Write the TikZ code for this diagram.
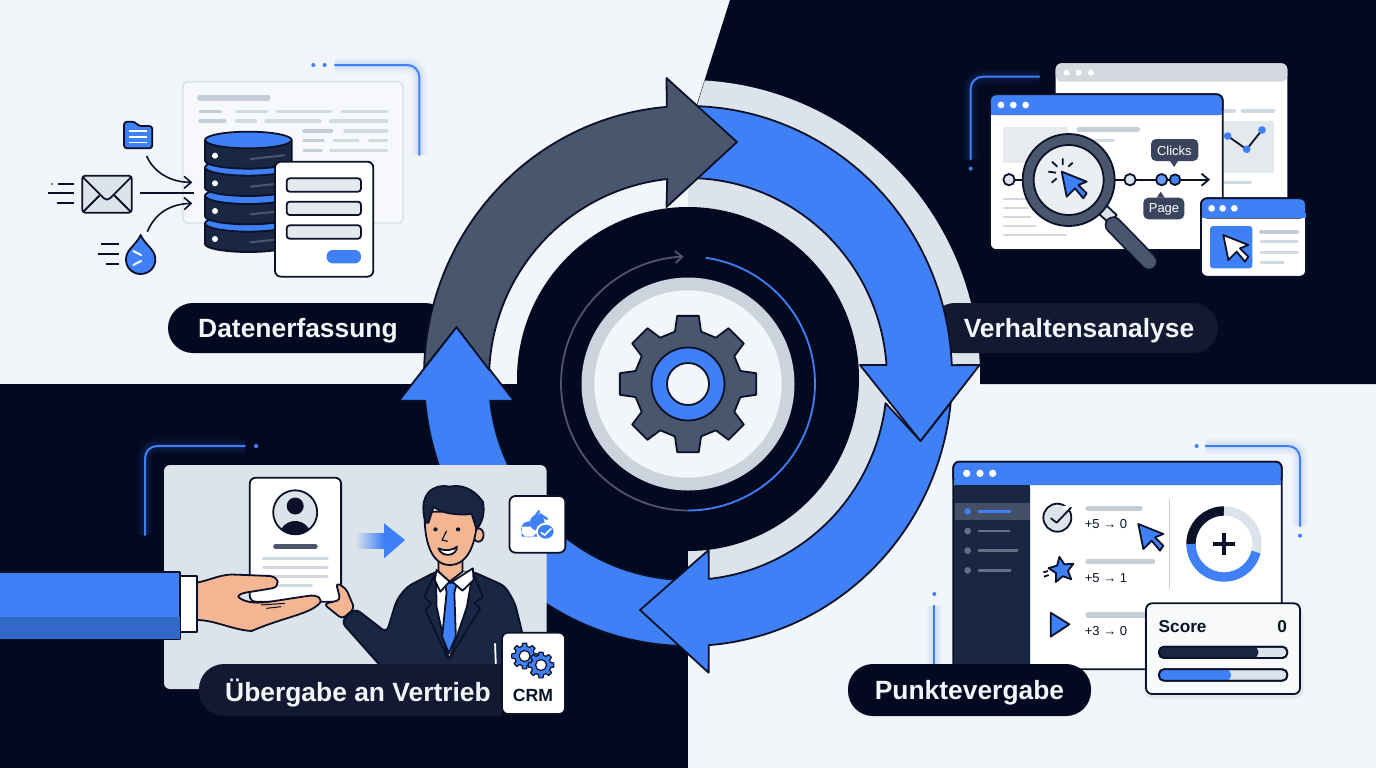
\documentclass[tikz,border=0pt]{standalone}
\usepackage{fontspec}
\setmainfont{Liberation Sans}
\usetikzlibrary{arrows.meta}
\definecolor{flowblue}{HTML}{3F80F6}
\definecolor{flowdeep}{HTML}{3268C8}
\definecolor{ink}{HTML}{0A1128}
\definecolor{bgdark}{HTML}{030920}
\definecolor{bglight}{HTML}{F2F5F9}
\definecolor{ringgray}{HTML}{DDE3EA}
\definecolor{ringmid}{HTML}{CBD3DD}
\definecolor{slate}{HTML}{4A566E}
\definecolor{navy}{HTML}{1A2742}
\definecolor{pillsoft}{HTML}{111A30}
\definecolor{barsoft}{HTML}{D3D9E1}
\definecolor{barmid}{HTML}{C5CDD7}
\definecolor{skin}{HTML}{F4B592}
\tikzset{
  outline/.style={draw=ink,line width=0.9pt,line join=round},
  flow/.style={outline,fill=flowblue},
  pill/.style={rounded corners=12.5pt},
  pilltext/.style={text=bglight,font=\fontsize{13.2}{15}\selectfont\bfseries},
  tiptext/.style={text=white,font=\fontsize{6.5}{8}\selectfont},
  scoretext/.style={text=ink,font=\fontsize{6.5}{8}\selectfont},
  softbar/.style={draw=barsoft,line width=#1,line cap=round},
  softbar/.default=1.6pt,
  midbar/.style={draw=barmid,line width=#1,line cap=round},
  midbar/.default=1.6pt,
  corner/.style={draw=flowblue,line width=1pt,rounded corners=6pt,line cap=round,
    preaction={draw=flowblue,draw opacity=.04,line width=8pt},
    preaction={draw=flowblue,draw opacity=.05,line width=5.5pt},
    preaction={draw=flowblue,draw opacity=.07,line width=3.5pt}},
  barb/.style={-{Straight Barb[length=3.5pt,width=6pt]}},
  window/.style={outline,fill=white,rounded corners=3pt},
  cursor/.style={outline,fill=flowblue},
  dotw/.style={fill=white}
}
% rings of the main cycle, angle runs clockwise from east
\newcommand{\outerring}[2]{plot[domain=#1:#2,samples=60]({688+264*cos(\x)},{376+270*sin(\x)})}
\newcommand{\innerring}[2]{-- plot[domain=#1:#2,samples=60]({688+199*cos(\x)},{379+201*sin(\x)})}
\newcommand{\cogpath}[2]{(-14:#2) \foreach \a in {0,45,...,315}{ -- (\a-9:#1) -- (\a+9:#1) -- (\a+14:#2) -- (\a+31:#2)} -- cycle}
\newcommand{\cursorpath}{(0,0) -- (15,75) -- (40,50) -- (65,80) -- (75,65) -- (50,40) -- (75,30) -- cycle}
\begin{document}
\begin{tikzpicture}[x=0.5pt,y=-0.5pt]
	\useasboundingbox (0,0) rectangle (1376,768);
	% Background quadrants
	\fill [bglight] (0,0) rectangle (1376,768);
	\fill [bgdark] (730,0) -- (1376,0) -- (1376,384) -- (980,384) -- (980,365) -- (688,365) -- (688,178) -- (697,104) -- cycle;
	\fill [bgdark] (0,384) rectangle (688,768);
	% Gray bands behind the arrows
	\fill [ringgray] (697,106) -- (705,80) -- plot[domain=-86.7:-2.2,samples=60]({688+292*cos(\x)},{376+296*sin(\x)}) -- (860,365) -- cycle;
	% Step pills
	\fill [bgdark,pill] (168,303) rectangle (450,353);
	\fill [pillsoft,pill] (930,303) rectangle (1218,353);
	\fill [ringgray] plot[domain=-90:90,samples=80]({688+199*cos(\x)},{379+201*sin(\x)}) -- cycle;
	\fill [bgdark] (688,379) ellipse [x radius=171,y radius=172];
	% Arrows of the cycle
	\draw [flow] \outerring{88}{174.75} -- (399,400.7) -- (456.5,327) -- (514,400.7) \innerring{173.8}{88} -- cycle;
	\draw [flow] \outerring{5.7}{85.5} -- (708.6,672.7) -- (640,610) -- (708.6,550) \innerring{84}{6.9} -- (920.5,441) -- cycle;
	\draw [flow] \outerring{270}{357.7} -- (979.6,365) -- (920.5,441) -- (860,365) \innerring{356}{270} -- cycle;
	\draw [outline,fill=slate] \outerring{181.7}{265.4} -- (666.5,78) -- (737,142) -- (666.5,207) \innerring{264}{182.6} -- (456.5,327) -- cycle;
	% Thin arcs round the hub
	\draw [barb,draw=slate,line width=0.9pt] plot[domain=90:268,samples=60]({688+127*cos(\x)},{383.5+127*sin(\x)});
	\draw [draw=flowblue,line width=0.9pt] plot[domain=278:450,samples=60]({688+127*cos(\x)},{383.5+127*sin(\x)});
	% Hub and gear
	\fill [ringmid] (688,384) circle [radius=106.5];
	\fill [bglight] (688,384) circle [radius=93.7];
	\draw [outline,fill=slate,shift={(688,384)}] \cogpath{69}{54};
	\draw [flow] (688,384) circle [radius=36.5];
	\draw [outline,fill=bglight] (688,384) circle [radius=21];
	% Datenerfassung
	\node [pilltext] (lblCapture) at (298,331) {Datenerfassung};
	\begin{scope}[shift={(30,50)},scale=1/3]
		\draw [outline,draw=ringgray,fill=bglight!70!white,rounded corners=3pt] (458,95) rectangle (1120,520);
		\draw [midbar=3pt] (510,143) -- (713,143);
		\foreach \xa/\xb/\yy in {510/572/184,510/585/213,822/905/243,822/880/272,822/874/301}
		\draw [midbar] (\xa,\yy) -- (\xb,\yy);
		\foreach \xa/\xb/\yy in {620/710/184,742/902/184,936/1070/184,620/676/213,708/870/213,902/1070/213,945/1070/243,912/984/272,1018/1070/272,902/1070/301}
		\draw [softbar] (\xa,\yy) -- (\xb,\yy);
		\draw [corner] (915,45) -- (1168,45) -- (1168,315);
		\fill [flowblue] (850,45) circle [radius=6] (884,45) circle [radius=6];
		% database stack
		\foreach \yy in {520,437,352,270}{
			\draw [outline,fill=navy] (525,\yy) -- (525,\yy+62) arc [start angle=180,end angle=0,x radius=130,y radius=24] -- (785,\yy) -- cycle;
			\draw [outline,fill=flowblue] (655,\yy) ellipse [x radius=130,y radius=25];
		}
		\foreach \yy in {317,400,483,567}
		\fill [white] (555,\yy) circle [radius=9];
		\foreach \yy in {327,410,493,577}
		\draw [draw=slate,line width=1pt,line cap=round] (662,\yy) -- (762,\yy-11);
		% form card
		\draw [window] (735,335) rectangle (1030,680);
		\foreach \yy in {385,455,526}
		\draw [outline,fill=ringgray!80!white,rounded corners=1.5pt] (770,\yy) rectangle (993,\yy+40);
		\fill [flowblue,rounded corners=3pt] (890,600) rectangle (993,640);
		% folder
		\draw [flow,rounded corners=1.5pt] (282,295) -- (282,215) -- (315,215) -- (325,228) -- (367,228) -- (367,295) -- cycle;
		\foreach \yy in {243,261,278}
		\draw [draw=white,line width=0.8pt] (297,\yy) -- (352,\yy);
		% envelope
		\draw [outline,fill=ringgray,rounded corners=1.5pt] (157,377) rectangle (305,488);
		\draw [outline] (157,380) -- (222,445) .. controls (228,450) and (234,450) .. (240,445) -- (305,380);
		\draw [outline] (160,485) -- (210,435) (302,485) -- (252,435);
		\draw [outline] (85,402) -- (132,402) (55,430) -- (132,430) (80,460) -- (132,460);
		\fill [ink] (66,402) circle [radius=2.5];
		% drop
		\draw [flow] (332,555) .. controls (345,585) and (376,598) .. (376,628) .. controls (376,655) and (355,672) .. (332,672) .. controls (309,672) and (288,655) .. (288,628) .. controls (288,598) and (319,585) .. (332,555) -- cycle;
		\draw [draw=white,line width=1pt,line cap=round] (310,603) -- (333,615) (333,633) -- (310,645);
		\draw [outline] (213,583) -- (268,583) (203,613) -- (268,613) (227,643) -- (268,643);
		% incoming arrows
		\coordinate (mailOut) at (330,430);
		\coordinate (stackIn) at (492,430);
		\draw [outline] (mailOut) -- (stackIn);
		\draw [outline,barb,line width=0.8pt] (350,318) .. controls (370,365) and (420,397) .. (487,397);
		\draw [outline,barb,line width=0.8pt] (352,545) .. controls (375,490) and (420,462) .. (487,460);
	\end{scope}
	% Verhaltensanalyse
	\node [pilltext] (lblBehavior) at (1079,331) {Verhaltensanalyse};
	\begin{scope}[shift={(950,50)},scale=1/3]
		\draw [corner] (268,80) -- (62,80) -- (62,328);
		\fill [flowblue] (62,356) circle [radius=6];
		% back window
		\draw [draw=none,fill=white,rounded corners=3pt] (317,40) rectangle (1012,560);
		\fill [ringgray!90!gray,rounded corners=3pt] (317,40) rectangle (1012,95);
		\foreach \xa in {350,386,423}
		\fill [dotw] (\xa,68) circle [radius=9];
		\draw [softbar=2pt] (822,183) -- (852,183) (878,183) -- (970,183);
		\fill [ringgray!80!white] (820,213) rectangle (972,370);
		\draw [softbar] (822,397) -- (902,397);
		\draw [outline] (833,258) -- (890,298) -- (936,240);
		\foreach \xa/\yy in {833/258,890/298,936/240}
		\fill [flowblue] (\xa,\yy) circle [radius=11.5];
		% main window
		\draw [window] (120,133) rectangle (818,600);
		\draw [flow,draw=ink,rounded corners=3pt] (120,193) -- (120,133) -- (818,133) -- (818,193) -- cycle;
		\fill [flowblue] (121.5,180) rectangle (816.5,194);
		\foreach \xa in {153,190,227}
		\fill [dotw] (\xa,165) circle [radius=10];
		\fill [ringgray!70!white] (160,230) rectangle (353,340);
		\draw [midbar=2.7pt] (388,238) -- (562,238);
		\draw [softbar=1.3pt] (385,272) -- (490,272);
		\foreach \xa/\yy in {235/448,235/475,240/502,256/528,348/555}
		\draw [softbar=1.1pt] (162,\yy) -- (\xa,\yy);
		% click path
		\draw [outline,barb] (177,389) -- (780,389);
		\draw [outline,fill=ringgray] (177,389) circle [radius=17];
		\draw [outline,fill=ringgray] (540,389) circle [radius=17];
		\draw [outline,fill=flowblue!80!white] (635,389) circle [radius=17];
		\draw [flow] (675,389) circle [radius=16];
		% tooltips
		\fill [slate!75!ink,rounded corners=2.5pt] (603,267) rectangle (745,333);
		\fill [slate!75!ink] (660,333) -- (684,333) -- (672,351) -- cycle;
		\node [tiptext] (tipClicks) at (673,302) {Clicks};
		\fill [slate!75!ink,rounded corners=2.5pt] (580,443) rectangle (703,508);
		\fill [slate!75!ink] (620,443) -- (644,443) -- (632,425) -- cycle;
		\node [tiptext] (tipPage) at (642,478) {Page};
		% magnifier
		\draw [outline,fill=ringgray] (445,490) -- (478,520) -- (500,495) -- (468,465) -- cycle;
		\draw [draw=ink,line width=8.6pt,line cap=round] (490,525) -- (597,635);
		\draw [draw=slate,line width=7pt,line cap=round] (490,525) -- (597,635);
		\draw [outline,fill=slate] (356,390) circle [radius=138];
		\draw [outline,fill=ringgray!60!white] (356,390) circle [radius=105];
		\draw [cursor,shift={(335,365)}] \cursorpath;
		\draw [outline] (322,350) -- (306,335) (338,345) -- (338,325) (355,350) -- (368,338) (318,368) -- (295,365) (320,385) -- (305,398);
		% small window
		\draw [window] (753,445) rectangle (1068,680);
		\draw [flow,draw=ink,rounded corners=3pt] (753,503) -- (753,445) -- (1068,445) -- (1068,503) -- cycle;
		\fill [flowblue] (754.5,490) rectangle (1066.5,504);
		\foreach \xa in {785,818,853}
		\fill [dotw] (\xa,475) circle [radius=10];
		\fill [flowblue,rounded corners=1.5pt] (780,528) rectangle (907,655);
		\draw [outline,fill=white,shift={(820,555)}] \cursorpath;
		\draw [midbar=2pt] (933,545) -- (1042,545);
		\draw [softbar=1.4pt] (933,575) -- (1042,575) (933,607) -- (1042,607) (933,637) -- (1000,637);
	\end{scope}
	% Punktevergabe
	\begin{scope}[shift={(920,440)},scale=1/3]
		\draw [corner] (857,18) -- (1140,18) -- (1140,258);
		\fill [flowblue] (830,18) circle [radius=6] (1140,287) circle [radius=6] (43,462) circle [radius=6];
		\draw [corner] (43,497) -- (43,680);
		% score window
		\draw [window] (100,65) rectangle (1085,688);
		\fill [navy,rounded corners=1pt] (102,133) rectangle (330,686);
		\draw [flow,draw=ink,rounded corners=3pt] (100,133) -- (100,65) -- (1085,65) -- (1085,133) -- cycle;
		\fill [flowblue] (101.5,120) rectangle (1083.5,134);
		\foreach \xa in {140,180,218}
		\fill [dotw] (\xa,100) circle [radius=11];
		\fill [slate!85!navy] (104,188) rectangle (330,240);
		\fill [flowblue] (143,214) circle [radius=10];
		\draw [draw=flowblue,line width=1.3pt,line cap=round] (177,214) -- (270,214);
		\foreach \yy/\xb in {273/268,332/292,391/271}{
			\fill [slate!85!white] (143,\yy) circle [radius=10];
			\draw [draw=slate!85!white,line width=1.3pt,line cap=round] (177,\yy) -- (\xb,\yy);
		}
		% scoring rows
		\draw [outline,fill=ringgray] (412,233) circle [radius=42];
		\draw [draw=white,line width=2pt] (430,205) -- (470,205);
		\draw [outline,line cap=round] (393,235) -- (410,248) -- (453,203);
		\draw [outline,fill=flowblue,shift={(425,390)},rotate=10] (-90:40) \foreach \i in {0,...,4}{ -- (-90+72*\i:40) -- (-54+72*\i:19)} -- cycle;
		\draw [outline] (370,397) -- (384,393) (372,410) -- (386,405);
		\draw [flow] (392,518) -- (448,553) -- (392,590) -- cycle;
		\foreach \xa/\yy in {660/206,698/365,680/525}
		\draw [midbar=2.7pt] (504,\yy) -- (\xa,\yy);
		\node [scoretext] (rowCheck) at (558,253) {+5 → 0};
		\node [scoretext] (rowStar) at (558,413) {+5 → 1};
		\node [scoretext] (rowPlay) at (558,573) {+3 → 0};
		\draw [draw=barmid,line width=0.8pt] (748,178) -- (748,448);
		\draw [cursor,shift={(655,252)}] \cursorpath;
		% donut
		\draw [draw=ink,line width=4.7pt] plot[domain=180:270,samples=30]({912+99*cos(\x)},{312+99*sin(\x)});
		\draw [draw=ringgray,line width=4.7pt] plot[domain=270:374,samples=30]({912+99*cos(\x)},{312+99*sin(\x)});
		\draw [draw=flowblue,line width=4.7pt] plot[domain=14:180,samples=30]({912+99*cos(\x)},{312+99*sin(\x)});
		\draw [draw=ink,line width=1.7pt] (880,312) -- (944,312) (912,280) -- (912,344);
		% score card
		\fill [gray,opacity=.12,rounded corners=4pt] (672,500) rectangle (1150,775);
		\draw [outline,fill=bglight!60!white,rounded corners=3pt] (678,490) rectangle (1140,762);
		\node [anchor=west,text=ink,font=\fontsize{8.6}{10}\selectfont\bfseries] (scoreTitle) at (695,560) {Score};
		\node [anchor=east,text=ink,font=\fontsize{8.6}{10}\selectfont\bfseries] (scoreValue) at (1122,560) {0};
		\draw [outline,fill=ringgray,rounded corners=2.5pt] (717,620) rectangle (1102,654);
		\fill [navy,rounded corners=2.5pt] (717,620) rectangle (1015,654);
		\draw [outline,rounded corners=2.5pt] (717,620) rectangle (1102,654);
		\draw [outline,fill=ringgray,rounded corners=2.5pt] (717,688) rectangle (1102,722);
		\fill [flowblue,rounded corners=2.5pt] (717,688) rectangle (933,722);
		\draw [outline,rounded corners=2.5pt] (717,688) rectangle (1102,722);
	\end{scope}
	\fill [bgdark,pill] (848,664) rectangle (1091,716);
	\node [pilltext] (lblScore) at (969.5,693) {Punktevergabe};
	% Vertrieb card
	\fill [ringgray,rounded corners=3pt] (164,465) rectangle (546.5,689);
	\begin{scope}[shift={(0,440)},xscale=0.37,yscale=1/3]
		\draw [corner] (662,18) -- (392,18) -- (392,285);
		\fill [flowblue] (692,18) circle [radius=6];
		% candidate sheet
		\draw [window] (675,113) rectangle (922,485);
		\draw [draw=slate,line width=2.5pt,line cap=round] (745,319) -- (852,319);
		\foreach \yy in {356,382,408}
		\draw [softbar=1.5pt] (712,\yy) -- (885,\yy);
		\draw [softbar=1.5pt] (755,436) -- (842,436);
		% receiving hand
		\draw [outline,fill=skin,rounded corners=2pt] (908,428) -- (935,445) -- (958,505) -- (925,537) -- (875,492) -- (920,480) -- cycle;
		% handing arm
		\draw [outline,fill=skin] (532,428) .. controls (570,420) and (600,400) .. (640,404) -- (730,408) .. controls (755,412) and (758,440) .. (735,445) -- (680,455) .. controls (655,458) and (640,465) .. (645,472) .. controls (665,490) and (700,490) .. (730,485) -- (830,468) .. controls (860,462) and (875,478) .. (862,492) .. controls (830,525) and (770,530) .. (680,573) .. controls (630,570) and (580,540) .. (532,540) -- cycle;
		\draw [outline,line width=0.5pt] (705,495) -- (770,490) (720,505) -- (760,500);
		\draw [outline,fill=white] (487,408) rectangle (532,575);
		\draw [outline,fill=flowblue] (-5,397) rectangle (487,597);
		\fill [flowdeep] (-5,530) rectangle (486,596);
		% man
		\draw [outline,fill=navy,rounded corners=3pt] (1178,395) -- (1100,440) -- (1072,480) -- (1045,578) -- (960,505) -- (922,545) -- (1030,680) -- (1420,680) -- (1412,580) -- (1392,490) -- (1365,438) -- (1278,395) -- cycle;
		\fill [white] (1178,395) -- (1278,395) -- (1262,500) -- (1215,650) -- (1180,500) -- cycle;
		\draw [outline,fill=navy] (1178,395) -- (1147,470) -- (1165,490) -- (1150,510) -- (1210,655) -- (1180,500) -- cycle;
		\draw [outline,fill=navy] (1278,395) -- (1305,470) -- (1282,490) -- (1298,505) -- (1215,655) -- (1262,500) -- cycle;
		\draw [outline,fill=flowblue] (1203,428) -- (1235,428) -- (1228,458) -- (1232,590) -- (1213,640) -- (1195,590) -- (1207,458) -- cycle;
		\draw [draw=white,line width=0.9pt] (1338,610) -- (1340,672);
		\draw [outline,fill=skin] (1185,350) -- (1185,395) -- (1215,425) -- (1250,395) -- (1250,350) -- cycle;
		\draw [outline,fill=white] (1180,390) -- (1215,425) -- (1190,455) -- (1175,420) -- cycle;
		\draw [outline,fill=white] (1278,385) -- (1222,425) -- (1250,452) -- (1280,420) -- cycle;
		\draw [outline,fill=skin] (1293,285) ellipse [x radius=14,y radius=20];
		\draw [outline,fill=skin] (1148,215) .. controls (1145,300) and (1165,375) .. (1215,375) .. controls (1265,375) and (1290,310) .. (1290,215) -- cycle;
		\draw [outline,fill=navy] (1150,248) .. controls (1128,160) and (1172,130) .. (1215,140) .. controls (1262,130) and (1290,162) .. (1305,185) .. controls (1312,220) and (1302,250) .. (1288,268) -- (1275,222) .. controls (1240,226) and (1195,222) .. (1172,200) -- (1158,248) -- cycle;
		\fill [ink] (1177,268) circle [radius=6] (1238,268) circle [radius=6];
		\draw [draw=ink,line width=0.6pt] (1207,272) -- (1195,300) -- (1210,304);
		\draw [outline,fill=white] (1185,325) .. controls (1205,335) and (1225,330) .. (1235,320) .. controls (1235,348) and (1195,355) .. (1185,325) -- cycle;
		% badge
		\draw [window] (1377,168) rectangle (1528,338);
		\fill [flowblue] (1430,268) ellipse [x radius=22,y radius=24] (1452,248) ellipse [x radius=20,y radius=24] (1410,260) rectangle (1470,290);
		\draw [draw=flowblue,line width=1.2pt] (1445,232) -- (1458,212) (1458,222) -- (1480,238);
		\draw [flow,draw=white] (1475,275) ellipse [x radius=24,y radius=24];
		\draw [draw=white,line width=0.8pt] (1462,277) -- (1472,285) -- (1490,265);
		\draw [window] (1357,578) rectangle (1527,822);
		% moving arrow
		\shade [left color=ringgray,right color=flowblue] (960,280) rectangle (1038,325);
		\fill [flowblue] (1038,250) -- (1095,300) -- (1038,355) -- cycle;
	\end{scope}
	% Avatar on the sheet
	\draw [outline,fill=ringgray] (295.2,512.3) circle [radius=22];
	\begin{scope}
		\clip (295.2,512.3) circle [radius=21.5];
		\fill [ink] (295.2,506) circle [radius=8.5];
		\fill [ink] (295.2,537) ellipse [x radius=16,y radius=16];
	\end{scope}
	% Gear icons
	\draw [outline,fill=flowblue,shift={(524.6,656)},line width=0.6pt] \cogpath{13}{10};
	\fill [white] (524.6,656) circle [radius=5.5];
	\draw [outline,fill=flowblue,shift={(541,665)},line width=0.6pt] \cogpath{13}{10};
	\fill [white] (541,665) circle [radius=5.5];
	\draw [outline,fill=white,line width=0.6pt] (524.6,656) circle [radius=5.5] (541,665) circle [radius=5.5];
	\node [text=ink,font=\fontsize{8.8}{10}\selectfont\bfseries] (crmTag) at (533,695) {CRM};
	% Übergabe pill, below the CRM tile
	\begin{scope}
		\clip (0,0) rectangle (501.5,768);
		\fill [pillsoft,pill] (199,664) rectangle (540,716);
	\end{scope}
	\node [pilltext] (lblHandover) at (358,693) {Übergabe an Vertrieb};
\end{tikzpicture}
\end{document}
